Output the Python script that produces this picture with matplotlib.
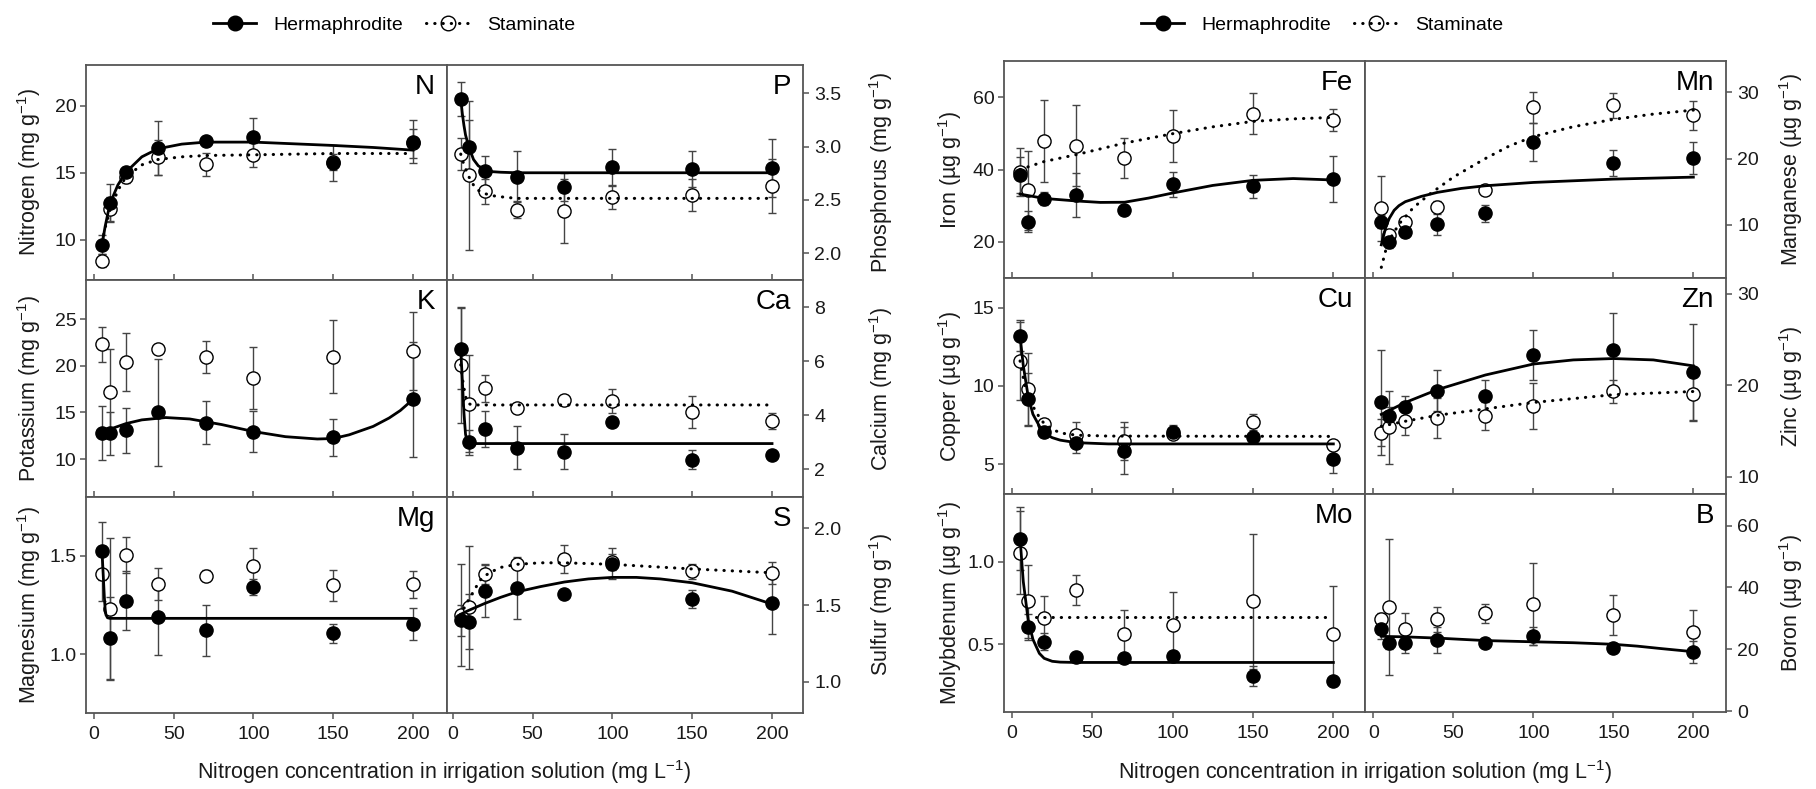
"""
Leaf nutrient concentration vs. nitrogen in irrigation solution,
hermaphrodite and staminate plants (two blocks of 3x2 panels).
"""
import matplotlib
matplotlib.use('Agg')
import matplotlib.pyplot as plt
from matplotlib.lines import Line2D
from matplotlib.ticker import FormatStrFormatter

plt.rcParams['font.family'] = ['Liberation Sans', 'DejaVu Sans']
plt.rcParams['mathtext.fontset'] = 'custom'
plt.rcParams['mathtext.rm'] = 'Liberation Sans'
plt.rcParams['mathtext.default'] = 'regular'

# N levels in irrigation solution (mg L-1)
X = [5, 10, 20, 40, 70, 100, 150, 200]

# --- macronutrients (mg g-1) ---
N_HERM = [9.63, 12.74, 15.05, 16.84, 17.36, 17.71, 15.72, 17.34]
N_HERM_ERR = [0.7, 1.4, 0.4, 2.0, 0.3, 1.4, 1.35, 1.6]
N_STAM = [8.45, 12.3, 14.72, 16.17, 15.65, 16.34, 15.8, 17.2]
N_STAM_ERR = [0.5, 0.9, 0.5, 1.3, 0.85, 0.9, 0.6, 1.1]
N_FIT_H_X = [5, 7, 10, 15, 20, 30, 40, 55, 70, 100, 130, 150, 175, 200]
N_FIT_H_Y = [9.6, 11.0, 12.7, 14.1, 15.05, 16.2, 16.8, 17.15, 17.3, 17.3, 17.15, 17.05, 16.9, 16.7]
N_FIT_S_X = [5, 7, 10, 15, 20, 30, 40, 55, 70, 100, 150, 200]
N_FIT_S_Y = [9.8, 10.9, 12.2, 13.7, 14.7, 15.6, 16.0, 16.2, 16.3, 16.35, 16.45, 16.45]

P_HERM = [3.45, 3.00, 2.775, 2.72, 2.62, 2.81, 2.79, 2.80]
P_HERM_ERR = [0.16, 0.25, 0.14, 0.24, 0.13, 0.17, 0.17, 0.27]
P_STAM = [2.93, 2.73, 2.58, 2.41, 2.40, 2.525, 2.55, 2.63]
P_STAM_ERR = [0.15, 0.70, 0.12, 0.08, 0.30, 0.11, 0.15, 0.25]
P_FIT_H_X = [5, 6, 7, 8, 10, 13, 16, 20, 25, 30, 40, 200]
P_FIT_H_Y = [3.45, 3.31, 3.2, 3.11, 3.0, 2.88, 2.82, 2.785, 2.765, 2.76, 2.755, 2.755]
P_FIT_S_X = [5, 7, 10, 13, 16, 20, 25, 30, 40, 200]
P_FIT_S_Y = [2.93, 2.83, 2.72, 2.64, 2.59, 2.56, 2.54, 2.53, 2.515, 2.515]

K_HERM = [12.75, 12.75, 13.1, 15.0, 13.9, 12.93, 12.32, 16.4]
K_HERM_ERR = [2.9, 2.3, 2.4, 5.7, 2.3, 2.2, 2.0, 6.2]
K_STAM = [22.3, 17.2, 20.43, 21.75, 20.96, 18.7, 20.96, 21.57]
K_STAM_ERR = [1.9, 4.6, 3.1, 0.3, 1.7, 3.3, 3.9, 4.2]
K_FIT_H_X = [5, 10, 20, 30, 45, 60, 80, 100, 120, 140, 150, 160, 175, 185, 192, 200]
K_FIT_H_Y = [12.9, 13.2, 13.8, 14.2, 14.45, 14.3, 13.7, 12.95, 12.4, 12.15, 12.2, 12.6, 13.5, 14.4, 15.2, 16.4]

CA_HERM = [6.46, 2.99, 3.48, 2.80, 2.65, 3.74, 2.35, 2.53]
CA_HERM_ERR = [1.5, 0.45, 0.66, 0.8, 0.65, 0.1, 0.35, 0.1]
CA_STAM = [5.87, 4.43, 5.0, 4.28, 4.56, 4.52, 4.11, 3.8]
CA_STAM_ERR = [2.15, 1.8, 0.5, 0.15, 0.1, 0.45, 0.6, 0.3]
CA_FIT_H_X = [5, 6, 7, 8, 9, 10, 12, 200]
CA_FIT_H_Y = [6.46, 5.3, 4.1, 3.3, 3.02, 2.96, 2.95, 2.95]
CA_FIT_S_X = [5, 6, 7, 8, 9, 10, 12, 200]
CA_FIT_S_Y = [5.87, 5.4, 5.0, 4.7, 4.5, 4.43, 4.38, 4.38]

MG_HERM = [1.525, 1.083, 1.272, 1.187, 1.122, 1.343, 1.105, 1.153]
MG_HERM_ERR = [0.15, 0.21, 0.15, 0.19, 0.13, 0.04, 0.05, 0.08]
MG_STAM = [1.41, 1.23, 1.505, 1.357, 1.40, 1.449, 1.35, 1.355]
MG_STAM_ERR = [0.14, 0.36, 0.09, 0.08, 0.03, 0.09, 0.08, 0.07]
MG_FIT_H_X = [5, 5.5, 6, 6.5, 7, 7.5, 8.5, 10, 200]
MG_FIT_H_Y = [1.525, 1.45, 1.37, 1.29, 1.23, 1.2, 1.185, 1.182, 1.182]

S_HERM = [1.40, 1.39, 1.593, 1.61, 1.572, 1.77, 1.54, 1.51]
S_HERM_ERR = [0.1, 0.18, 0.17, 0.2, 0.02, 0.1, 0.06, 0.2]
S_STAM = [1.435, 1.485, 1.70, 1.77, 1.80, 1.78, 1.72, 1.71]
S_STAM_ERR = [0.33, 0.4, 0.065, 0.03, 0.09, 0.05, 0.05, 0.07]
S_FIT_H_X = [5, 10, 20, 30, 40, 55, 70, 85, 100, 115, 130, 150, 175, 200]
S_FIT_H_Y = [1.44, 1.465, 1.51, 1.55, 1.585, 1.62, 1.65, 1.67, 1.68, 1.68, 1.67, 1.645, 1.59, 1.506]
S_FIT_S_X = [5, 8, 12, 17, 20, 25, 30, 40, 55, 70, 100, 150, 200]
S_FIT_S_Y = [1.43, 1.50, 1.57, 1.66, 1.69, 1.72, 1.745, 1.765, 1.775, 1.775, 1.765, 1.735, 1.71]

# --- micronutrients (ug g-1) ---
FE_HERM = [38.4, 25.6, 31.9, 32.95, 28.8, 35.9, 35.3, 37.3]
FE_HERM_ERR = [5.0, 2.8, 1.8, 6.0, 0.8, 3.4, 3.1, 6.4]
FE_STAM = [39.3, 34.2, 47.9, 46.5, 43.1, 49.3, 55.45, 53.7]
FE_STAM_ERR = [6.6, 11.0, 11.4, 11.2, 5.5, 7.2, 5.7, 3.0]
FE_FIT_H_X = [5, 20, 40, 55, 70, 85, 100, 125, 150, 175, 200]
FE_FIT_H_Y = [33.2, 32.0, 31.3, 30.9, 30.95, 32.1, 33.5, 35.6, 37.0, 37.5, 37.1]
FE_FIT_S_X = [5, 20, 40, 70, 100, 125, 150, 175, 200]
FE_FIT_S_Y = [40.0, 42.2, 44.1, 47.3, 49.9, 51.8, 53.3, 54.0, 54.4]

MN_HERM = [10.5, 7.5, 9.0, 10.1, 11.75, 22.5, 19.35, 20.1]
MN_HERM_ERR = [1.0, 1.0, 0.8, 1.6, 1.3, 2.8, 2.0, 2.4]
MN_STAM = [12.5, 8.5, 10.5, 12.75, 15.3, 27.7, 28.0, 26.5]
MN_STAM_ERR = [4.9, 0.7, 0.7, 0.8, 0.5, 2.3, 1.9, 2.2]
MN_FIT_H_X = [5, 6, 8, 10, 13, 16, 20, 30, 40, 55, 70, 100, 150, 200]
MN_FIT_H_Y = [7.0, 8.0, 9.8, 11.0, 12.2, 12.9, 13.5, 14.3, 14.9, 15.5, 15.9, 16.4, 16.9, 17.2]
MN_FIT_S_X = [5, 8, 12, 17, 25, 35, 50, 70, 85, 100, 125, 150, 175, 200]
MN_FIT_S_Y = [3.6, 6.4, 8.6, 10.4, 12.6, 14.6, 17.2, 20.0, 21.9, 23.3, 24.8, 25.9, 26.7, 27.3]

CU_HERM = [13.22, 9.15, 7.05, 6.35, 5.85, 7.09, 6.77, 5.32]
CU_HERM_ERR = [1.0, 1.7, 0.3, 0.65, 1.5, 0.4, 0.3, 0.9]
CU_STAM = [11.6, 9.8, 7.56, 6.9, 6.47, 6.94, 7.71, 6.24]
CU_STAM_ERR = [2.5, 2.3, 0.3, 0.8, 1.2, 0.3, 0.5, 0.2]
CU_FIT_H_X = [5, 7, 10, 13, 17, 20, 25, 30, 40, 60, 200]
CU_FIT_H_Y = [13.2, 11.3, 9.36, 8.2, 7.44, 7.0, 6.7, 6.54, 6.38, 6.3, 6.3]
CU_FIT_S_X = [5, 8, 10, 13, 17, 20, 25, 30, 40, 60, 200]
CU_FIT_S_Y = [11.6, 10.0, 9.4, 8.7, 8.0, 7.6, 7.25, 7.0, 6.86, 6.8, 6.78]

ZN_HERM = [18.1, 16.6, 17.65, 19.4, 18.8, 23.3, 23.8, 21.4]
ZN_HERM_ERR = [5.7, 1.0, 1.2, 2.2, 1.8, 2.7, 4.1, 5.3]
ZN_STAM = [14.8, 15.4, 16.1, 16.4, 16.6, 17.7, 19.3, 19.0]
ZN_STAM_ERR = [1.5, 4.0, 1.5, 2.2, 1.5, 2.5, 1.3, 2.8]
ZN_FIT_H_X = [5, 20, 40, 70, 100, 125, 150, 175, 200]
ZN_FIT_H_Y = [16.8, 18.1, 19.5, 21.1, 22.3, 22.75, 22.9, 22.75, 22.1]
ZN_FIT_S_X = [5, 20, 40, 70, 100, 150, 200]
ZN_FIT_S_Y = [15.5, 16.05, 16.7, 17.4, 18.1, 18.95, 19.3]

MO_HERM = [1.14, 0.606, 0.516, 0.425, 0.42, 0.43, 0.31, 0.275]
MO_HERM_ERR = [0.19, 0.08, 0.05, 0.02, 0.02, 0.03, 0.06, 0.02]
MO_STAM = [1.055, 0.76, 0.66, 0.83, 0.56, 0.617, 0.76, 0.56]
MO_STAM_ERR = [0.25, 0.22, 0.13, 0.09, 0.15, 0.2, 0.41, 0.29]
MO_FIT_H_X = [5, 7, 10, 13, 17, 20, 25, 30, 40, 200]
MO_FIT_H_Y = [1.14, 0.88, 0.65, 0.53, 0.445, 0.415, 0.397, 0.392, 0.39, 0.39]
MO_FIT_S_X = [15, 200]
MO_FIT_S_Y = [0.665, 0.665]

B_HERM = [26.4, 22.1, 22.1, 23.0, 21.9, 24.3, 20.3, 19.2]
B_HERM_ERR = [3.0, 2.0, 3.2, 4.1, 0.8, 3.0, 0.8, 3.6]
B_STAM = [29.7, 33.8, 26.4, 29.7, 31.6, 34.6, 31.1, 25.7]
B_STAM_ERR = [2.0, 22.0, 5.2, 4.0, 3.0, 13.2, 6.4, 7.0]
B_FIT_H_X = [5, 10, 20, 40, 70, 100, 125, 150, 165, 180, 200]
B_FIT_H_Y = [24.2, 24.1, 24.0, 23.6, 22.8, 22.4, 22.1, 21.6, 21.0, 20.2, 19.2]

MG_UNIT = r'(mg g$^{-1}$)'
UG_UNIT = r'(µg g$^{-1}$)'

# (block, row, col, letter, label, ylim, yticks, fmt, herm, herm_err, stam, stam_err, fit_h, fit_s)
PANELS = [
    (0, 0, 0, 'N', 'Nitrogen ' + MG_UNIT, (7, 23.06), [10, 15, 20], '%d',
     N_HERM, N_HERM_ERR, N_STAM, N_STAM_ERR, (N_FIT_H_X, N_FIT_H_Y), (N_FIT_S_X, N_FIT_S_Y)),
    (0, 0, 1, 'P', 'Phosphorus ' + MG_UNIT, (1.75, 3.765), [2.0, 2.5, 3.0, 3.5], '%.1f',
     P_HERM, P_HERM_ERR, P_STAM, P_STAM_ERR, (P_FIT_H_X, P_FIT_H_Y), (P_FIT_S_X, P_FIT_S_Y)),
    (0, 1, 0, 'K', 'Potassium ' + MG_UNIT, (5.93, 29.2), [10, 15, 20, 25], '%d',
     K_HERM, K_HERM_ERR, K_STAM, K_STAM_ERR, (K_FIT_H_X, K_FIT_H_Y), None),
    (0, 1, 1, 'Ca', 'Calcium ' + MG_UNIT, (0.97, 9.01), [2, 4, 6, 8], '%d',
     CA_HERM, CA_HERM_ERR, CA_STAM, CA_STAM_ERR, (CA_FIT_H_X, CA_FIT_H_Y), (CA_FIT_S_X, CA_FIT_S_Y)),
    (0, 2, 0, 'Mg', 'Magnesium ' + MG_UNIT, (0.70, 1.80), [1.0, 1.5], '%.1f',
     MG_HERM, MG_HERM_ERR, MG_STAM, MG_STAM_ERR, (MG_FIT_H_X, MG_FIT_H_Y), None),
    (0, 2, 1, 'S', 'Sulfur ' + MG_UNIT, (0.796, 2.204), [1.0, 1.5, 2.0], '%.1f',
     S_HERM, S_HERM_ERR, S_STAM, S_STAM_ERR, (S_FIT_H_X, S_FIT_H_Y), (S_FIT_S_X, S_FIT_S_Y)),
    (1, 0, 0, 'Fe', 'Iron ' + UG_UNIT, (10, 70), [20, 40, 60], '%d',
     FE_HERM, FE_HERM_ERR, FE_STAM, FE_STAM_ERR, (FE_FIT_H_X, FE_FIT_H_Y), (FE_FIT_S_X, FE_FIT_S_Y)),
    (1, 0, 1, 'Mn', 'Manganese ' + UG_UNIT, (2.0, 34.7), [10, 20, 30], '%d',
     MN_HERM, MN_HERM_ERR, MN_STAM, MN_STAM_ERR, (MN_FIT_H_X, MN_FIT_H_Y), (MN_FIT_S_X, MN_FIT_S_Y)),
    (1, 1, 0, 'Cu', 'Copper ' + UG_UNIT, (3.1, 16.9), [5, 10, 15], '%d',
     CU_HERM, CU_HERM_ERR, CU_STAM, CU_STAM_ERR, (CU_FIT_H_X, CU_FIT_H_Y), (CU_FIT_S_X, CU_FIT_S_Y)),
    (1, 1, 1, 'Zn', 'Zinc ' + UG_UNIT, (8.1, 31.7), [10, 20, 30], '%d',
     ZN_HERM, ZN_HERM_ERR, ZN_STAM, ZN_STAM_ERR, (ZN_FIT_H_X, ZN_FIT_H_Y), (ZN_FIT_S_X, ZN_FIT_S_Y)),
    (1, 2, 0, 'Mo', 'Molybdenum ' + UG_UNIT, (0.09, 1.41), [0.5, 1.0], '%.1f',
     MO_HERM, MO_HERM_ERR, MO_STAM, MO_STAM_ERR, (MO_FIT_H_X, MO_FIT_H_Y), (MO_FIT_S_X, MO_FIT_S_Y)),
    (1, 2, 1, 'B', 'Boron ' + UG_UNIT, (-0.3, 70.2), [0, 20, 40, 60], '%d',
     B_HERM, B_HERM_ERR, B_STAM, B_STAM_ERR, (B_FIT_H_X, B_FIT_H_Y), None),
]

# Layout in pixels of the 1816x789 canvas
W, H = 1816, 789
BLOCK_X = [(86, 447, 803), (1004, 1365, 1726)]
BLOCK_Y = [(65, 280, 497, 713), (61, 278, 494, 712)]
XLIMS = [[(-5, 221.3), (-3.6, 219.4)], [(-5, 219.7), (-5.2, 220.4)]]
# y-label anchor positions in axes coordinates
LABEL_X = [[-0.119, 1.18], [-0.111, 1.141]]

SPINE = '#555555'
ERRC = '#444444'
DOTTED = (0, (0.1, 2.6))
TICK_FS = 14
LABEL_FS = 15.5
XLABEL = r'Nitrogen concentration in irrigation solution (mg L$^{-1}$)'


def draw_panel(fig, p):
    block, row, col, letter, label, ylim, yticks, fmt, herm, herm_err, stam, stam_err, fit_h, fit_s = p
    x0, x1 = BLOCK_X[block][col], BLOCK_X[block][col + 1]
    y0, y1 = BLOCK_Y[block][row], BLOCK_Y[block][row + 1]
    ax = fig.add_axes([x0 / W, 1 - y1 / H, (x1 - x0) / W, (y1 - y0) / H])

    # error bars below the markers
    for vals, errs in ((stam, stam_err), (herm, herm_err)):
        ax.errorbar(X, vals, yerr=errs, fmt='none', ecolor=ERRC, elinewidth=1.0,
                    capsize=2.6, capthick=1.0, zorder=1)
    ax.plot(X, stam, 'o', ms=9.5, mfc='white', mec='black', mew=1.0, zorder=3)
    ax.plot(X, herm, 'o', ms=9.5, mfc='black', mec='black', mew=1.0, zorder=4)

    # regression curves
    if fit_h is not None:
        ax.plot(fit_h[0], fit_h[1], '-', color='black', lw=2.0, zorder=5)
    if fit_s is not None:
        ax.plot(fit_s[0], fit_s[1], color='black', lw=2.2, linestyle=DOTTED,
                dash_capstyle='round', zorder=5)

    ax.set_xlim(*XLIMS[block][col])
    ax.set_ylim(*ylim)
    ax.set_xticks([0, 50, 100, 150, 200])
    ax.set_yticks(yticks)
    ax.yaxis.set_major_formatter(FormatStrFormatter(fmt))

    for s in ax.spines.values():
        s.set_color(SPINE)
        s.set_linewidth(1.3)

    bottom = row == 2
    ax.tick_params(axis='x', direction='out' if bottom else 'in', length=4.5,
                   width=1.1, color=SPINE, labelsize=TICK_FS, pad=5,
                   labelbottom=bottom, labelcolor='#1a1a1a')
    if col == 0:
        ax.tick_params(axis='y', direction='out', length=4.5, width=1.1, color=SPINE,
                       labelsize=TICK_FS, pad=2.5, labelcolor='#1a1a1a')
    else:
        ax.yaxis.tick_right()
        ax.yaxis.set_label_position('right')
        ax.tick_params(axis='y', direction='out', length=4.5, width=1.1, color=SPINE,
                       labelsize=TICK_FS, pad=3.5, labelcolor='#1a1a1a')

    ax.set_ylabel(label, fontsize=LABEL_FS, color='#1a1a1a')
    ax.yaxis.set_label_coords(LABEL_X[block][col], 0.5)

    ax.text(1 - 12 / (x1 - x0), 1 - 9 / (y1 - y0), letter, transform=ax.transAxes,
            ha='right', va='top', fontsize=20, color='black')
    return ax


def add_legend(fig, cx, cy):
    handles = [
        Line2D([], [], color='black', lw=2.0, marker='o', ms=10.5, mfc='black', mec='black'),
        Line2D([], [], color='black', lw=2.2, linestyle=DOTTED, dash_capstyle='round',
               marker='o', ms=10.5, mfc='none', mec='black', mew=1.0),
    ]
    fig.legend(handles, ['Hermaphrodite', 'Staminate'], loc='center',
               bbox_to_anchor=(cx, cy), ncol=2, frameon=False, fontsize=14,
               handlelength=2.2, handletextpad=0.9, columnspacing=1.2)


def main():
    fig = plt.figure(figsize=(W / 100, H / 100), dpi=100)
    for p in PANELS:
        draw_panel(fig, p)

    for block in range(2):
        cx = (BLOCK_X[block][0] + BLOCK_X[block][2]) / 2 / W
        fig.text(cx, 1 - 772 / H, XLABEL, ha='center', va='center',
                 fontsize=LABEL_FS, color='#1a1a1a')

    add_legend(fig, 394 / W, 1 - 25 / H)
    add_legend(fig, 1322 / W, 1 - 25 / H)

    fig.savefig('out.png', dpi=100)
    plt.close(fig)


if __name__ == '__main__':
    main()
